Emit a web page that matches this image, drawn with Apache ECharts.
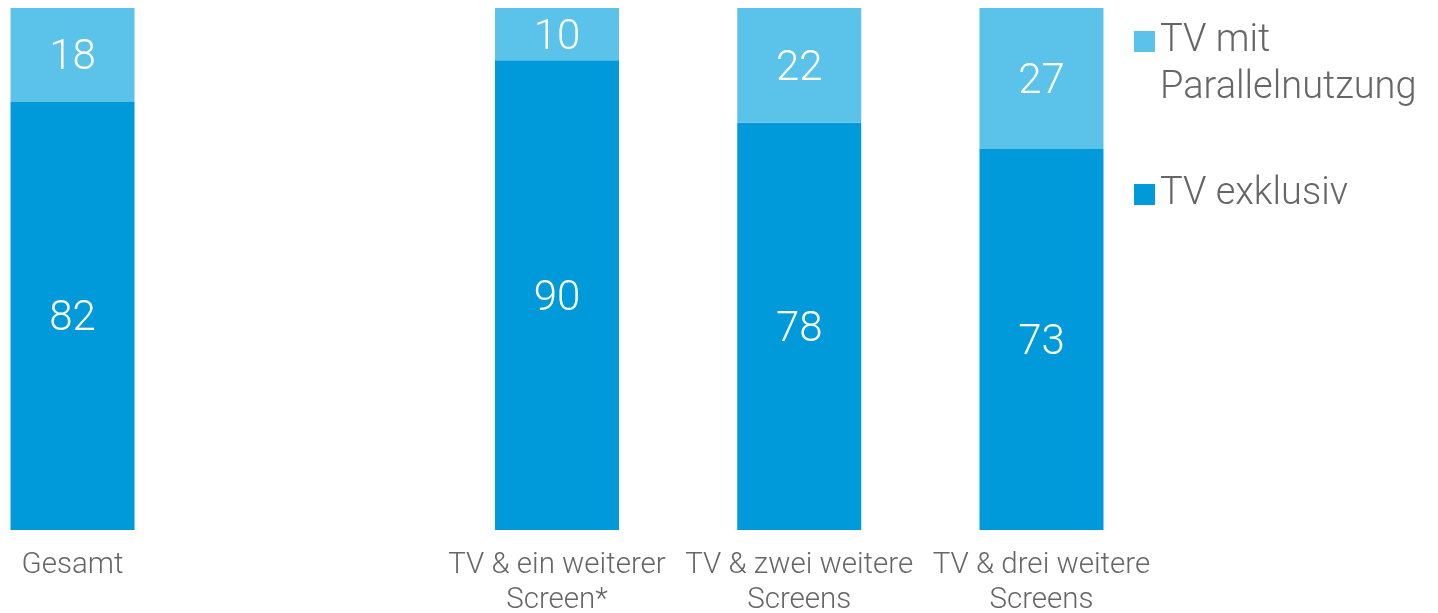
<!DOCTYPE html>
<html>
<head>
<meta charset="utf-8">
<script src="https://cdn.jsdelivr.net/npm/echarts@6/dist/echarts.min.js"></script>
<style>
  html, body { margin: 0; padding: 0; background: #fff; }
  #chart { width: 1438px; height: 613px; }
</style>
</head>
<body>
<div id="chart"></div>
<script>
// Kategorien (leere Kategorie als Abstand nach "Gesamt")
const categories = ['Gesamt', '', 'TV & ein weiterer\nScreen*', 'TV & zwei weitere\nScreens', 'TV & drei weitere\nScreens'];
const tvExklusiv = [82, '-', 90, 78, 73];
const tvParallel = [18, '-', 10, 22, 27];

const FONT = 'Roboto';
const GREY = '#666666';

const chart = echarts.init(document.getElementById('chart'));

const labelStyle = {
  show: true,
  position: 'inside',
  offset: [0, 4],
  color: '#fff',
  fontFamily: FONT,
  fontWeight: 300,
  fontSize: 42
};

// Legenden-Icons: Quadrat oben (2-zeiliger Text) bzw. mittig, Hoehe 68
const iconTop = 'path://M0,0L21,0L21,21L0,21Z M0,68L0.01,68L0,68Z';
const iconMid = 'path://M0,0L0.01,0L0,0Z M0,23.5L21,23.5L21,44.5L0,44.5Z M0,68L0.01,68L0,68Z';

const option = {
  animation: false,
  grid: {
    left: -48.6,
    right: 275.4,
    top: 8,
    bottom: 83,
    containLabel: false,
    outerBoundsMode: 'none'
  },
  legend: {
    orient: 'vertical',
    left: 1134,
    top: 18,
    padding: 0,
    itemWidth: 21,
    itemHeight: 68,
    itemGap: 48.5,
    selectedMode: false,
    textStyle: {
      color: GREY,
      fontFamily: FONT,
      fontWeight: 300,
      fontSize: 38,
      lineHeight: 47
    },
    formatter: name => name === 'TV mit Parallelnutzung' ? 'TV mit\nParallelnutzung' : name,
    data: [
      { name: 'TV mit Parallelnutzung', icon: iconTop },
      { name: 'TV exklusiv', icon: iconMid }
    ]
  },
  xAxis: {
    type: 'category',
    data: categories,
    axisLine: { show: false },
    axisTick: { show: false },
    axisLabel: {
      interval: 0,
      margin: 18,
      color: GREY,
      fontFamily: FONT,
      fontWeight: 300,
      fontSize: 29.5,
      lineHeight: 35
    }
  },
  yAxis: {
    type: 'value',
    min: 0,
    max: 100,
    show: false,
    splitLine: { show: false }
  },
  series: [
    {
      name: 'TV exklusiv',
      type: 'bar',
      stack: 'tv',
      barWidth: 124,
      itemStyle: { color: '#0099d9' },
      label: labelStyle,
      data: tvExklusiv
    },
    {
      name: 'TV mit Parallelnutzung',
      type: 'bar',
      stack: 'tv',
      barWidth: 124,
      itemStyle: { color: '#5bc2e9' },
      label: labelStyle,
      data: tvParallel
    }
  ]
};

chart.setOption(option);
</script>
</body>
</html>
